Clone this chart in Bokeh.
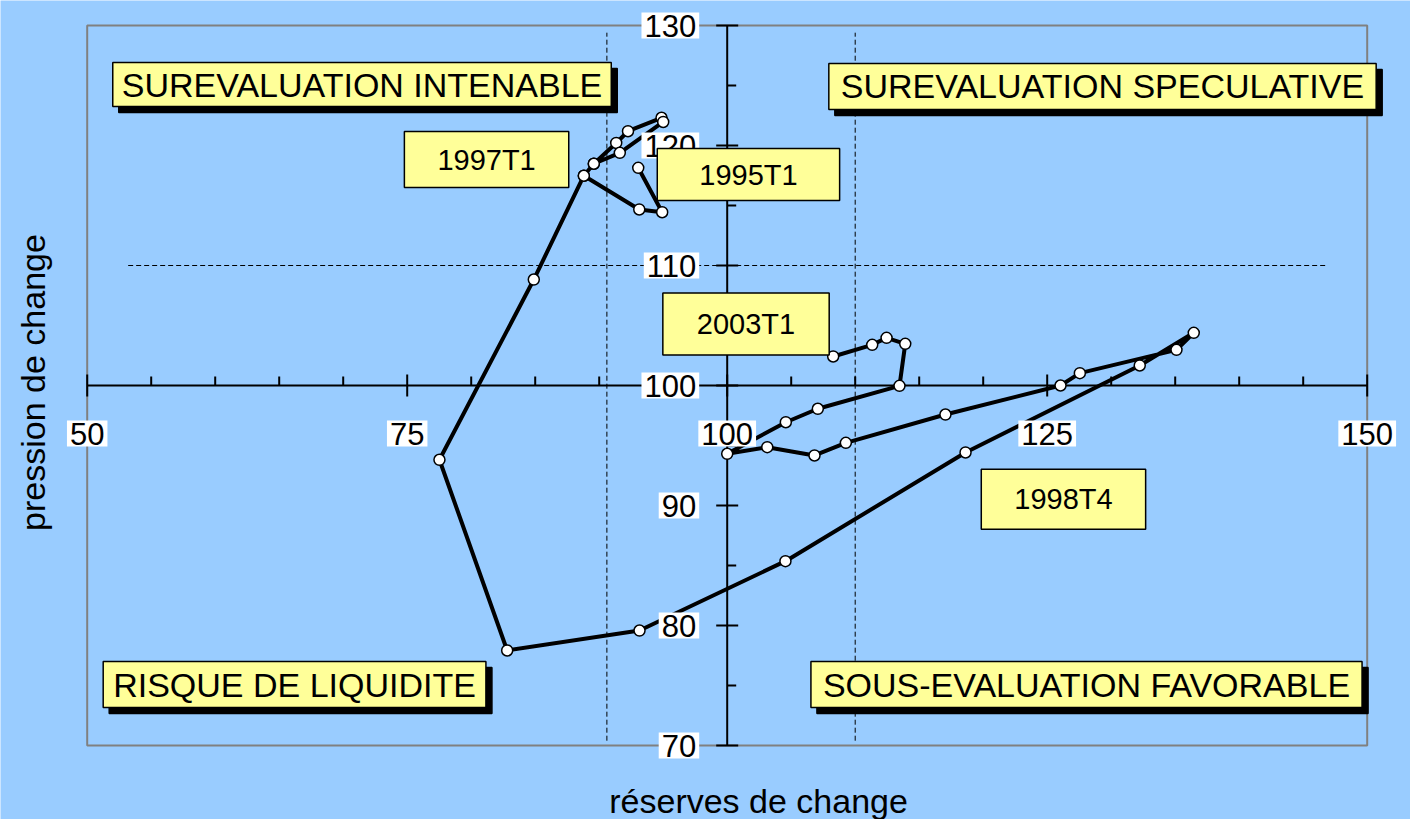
from bokeh.plotting import figure
from bokeh.models import Range1d, Label
from bokeh.embed import file_html
from bokeh.resources import INLINE
import math

# ---- data ----
reserves = [93.05, 94.92, 93.13, 88.80, 89.58, 91.33, 92.25, 94.87, 95.00, 91.61,
            89.58, 88.80, 84.89, 77.52, 82.81, 93.15, 104.55, 118.62, 132.23, 136.45,
            135.10, 127.55, 126.04, 117.05, 109.27, 106.82, 103.13, 100.00, 104.58,
            107.08, 113.46, 113.91, 112.45, 111.33, 108.28]
pression = [118.14, 114.44, 114.67, 117.48, 118.48, 120.21, 121.19, 122.31, 121.96, 119.39,
            118.48, 117.48, 108.83, 93.81, 77.92, 79.58, 85.36, 94.42, 101.67, 104.39,
            102.97, 101.03, 100.00, 97.58, 95.22, 94.17, 94.86, 94.31, 96.94,
            98.06, 99.97, 103.47, 103.97, 103.39, 102.42]

x_major = [50, 75, 100, 125, 150]
x_minor = [v for v in range(55, 150, 5) if v % 25 != 0]
y_major = [70, 80, 90, 100, 110, 120, 130]
y_minor = [75, 85, 95, 105, 115, 125]

ref_x = [90.6, 110.0]   # vertical dashed references
ref_y = [110.0]         # horizontal dashed reference

quadrants = ["SUREVALUATION INTENABLE", "SUREVALUATION SPECULATIVE",
             "RISQUE DE LIQUIDITE", "SOUS-EVALUATION FAVORABLE"]
periods = ["1997T1", "1995T1", "2003T1", "1998T4"]

x_title = "réserves de change"
y_title = "pression de change"

FONT = "Liberation Sans"
BG = "#99CCFF"

W, H = 1410, 819
PXX = 12.8  # px per x unit
PXY = 12.0  # px per y unit
X0 = 50 - 86.7 / PXX
Y1 = 130 + 25 / PXY

p = figure(width=W, height=H, output_backend="svg", toolbar_location=None, tools="",
           x_range=Range1d(X0, X0 + W / PXX), y_range=Range1d(Y1 - H / PXY, Y1),
           x_axis_location=None, y_axis_location=None, min_border=0,
           background_fill_color=BG, border_fill_color=BG)
p.grid.grid_line_color = None
p.outline_line_color = None

# plot-area border
p.quad(left=[x_major[0]], right=[x_major[-1]], bottom=[y_major[0]], top=[y_major[-1]],
       fill_color=None, line_color="#808080", line_width=2)

# dashed reference lines
for rx in ref_x:
    p.line([rx, rx], [70.4, 129.4], line_color="black", line_width=1, line_dash="5 3")
for ry in ref_y:
    p.line([53.2, 146.9], [ry, ry], line_color="black", line_width=1, line_dash="5 3")

# crossing axes at (100, 100)
p.segment(x0=[50], y0=[100], x1=[150], y1=[100], line_color="black", line_width=2)
p.segment(x0=[100], y0=[70], x1=[100], y1=[130], line_color="black", line_width=2)
hx = 11 / PXY
p.segment(x0=x_major, y0=[100 - hx] * len(x_major), x1=x_major, y1=[100 + hx] * len(x_major),
          line_color="black", line_width=2)
p.segment(x0=x_minor, y0=[100] * len(x_minor), x1=x_minor, y1=[100 + 9 / PXY] * len(x_minor),
          line_color="black", line_width=2)
hy = 11 / PXX
p.segment(x0=[100 - hy] * len(y_major), y0=y_major, x1=[100 + hy] * len(y_major), y1=y_major,
          line_color="black", line_width=2)
p.segment(x0=[100] * len(y_minor), y0=y_minor, x1=[100 + 9 / PXX] * len(y_minor), y1=y_minor,
          line_color="black", line_width=2)

# data path
p.line(reserves, pression, line_color="black", line_width=4, line_join="round")
p.scatter(reserves, pression, size=11, fill_color="white", line_color="black", line_width=1.5)

# tick labels
for v in x_major:
    p.add_layout(Label(x=v, y=100, y_offset=-48, text=str(v), text_align="center",
                       text_baseline="middle", text_font=FONT, text_font_size="31px",
                       text_color="black", background_fill_color="white",
                       padding=dict(left=3, right=3, top=2, bottom=2)))
for v in y_major:
    p.add_layout(Label(x=100, y=v, x_offset=-28, text=str(v), text_align="right",
                       text_baseline="middle", text_font=FONT, text_font_size="31px",
                       text_color="black", background_fill_color="white",
                       padding=dict(left=3, right=3, top=2, bottom=2)))

# quadrant labels with drop shadow
q_pos = [(71.47, 125.08, 9, 3), (129.32, 124.92, 12, 4), (66.2, 75.08, 10, 4), (128.07, 75.08, 12, 4)]
for txt, (qx, qy, ph, pv) in zip(quadrants, q_pos):
    pad = dict(left=ph, right=ph, top=pv, bottom=pv)
    p.add_layout(Label(x=qx, y=qy, x_offset=6, y_offset=-6, text=txt, text_align="center",
                       text_baseline="middle", text_font=FONT, text_font_size="34px",
                       text_color="black", background_fill_color="black",
                       border_line_color="black", border_line_width=1.5, padding=pad))
    p.add_layout(Label(x=qx, y=qy, text=txt, text_align="center",
                       text_baseline="middle", text_font=FONT, text_font_size="34px",
                       text_color="black", background_fill_color="#FFFF99",
                       border_line_color="black", border_line_width=1.5, padding=pad))

# period labels
p_pos = [(81.2, 118.83, 33, 12), (101.66, 117.58, 42, 10), (101.47, 105.13, 34, 15), (126.27, 90.53, 33, 14)]
for txt, (px_, py_, ph, pv) in zip(periods, p_pos):
    p.add_layout(Label(x=px_, y=py_, text=txt, text_align="center",
                       text_baseline="middle", text_font=FONT, text_font_size="29px",
                       text_color="black", background_fill_color="#FFFF99",
                       border_line_color="black", border_line_width=1.5,
                       padding=dict(left=ph, right=ph, top=pv, bottom=pv)))

# axis titles
p.add_layout(Label(x=102.45, y=130 - (800 - 25) / PXY, text=x_title, text_align="center",
                   text_baseline="middle", text_font=FONT, text_font_size="34px",
                   text_color="black"))
p.add_layout(Label(x=50 - (86.7 - 32) / PXX, y=100.25, text=y_title, text_align="center",
                   text_baseline="middle", text_font=FONT, text_font_size="34px",
                   text_color="black", angle=math.pi / 2))

open("out.html", "w").write(file_html(p, INLINE))
